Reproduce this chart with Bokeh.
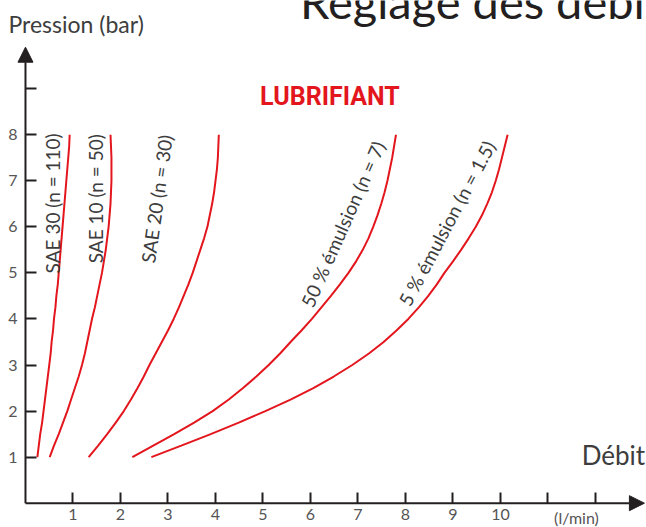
import math
from bokeh.plotting import figure
from bokeh.models import Range1d, FixedTicker, Arrow, NormalHead, Label, ColumnDataSource
from bokeh.core.properties import value
from bokeh.embed import file_html
from bokeh.resources import INLINE

# ---------------- data ----------------
pressure = [1.0, 1.25, 1.5, 1.75, 2.0, 2.25, 2.5, 2.75, 3.0, 3.25, 3.5, 3.75, 4.0, 4.25,
            4.5, 4.75, 5.0, 5.25, 5.5, 5.75, 6.0, 6.25, 6.5, 6.75, 7.0, 7.25, 7.5, 7.75, 8.0]
sae30 = [0.25, 0.28, 0.31, 0.35, 0.38, 0.41, 0.44, 0.47, 0.50, 0.53, 0.55, 0.58, 0.60, 0.63,
         0.65, 0.68, 0.70, 0.72, 0.74, 0.76, 0.78, 0.80, 0.82, 0.84, 0.86, 0.88, 0.90, 0.92, 0.93]
sae10 = [0.51, 0.60, 0.70, 0.79, 0.88, 0.96, 1.04, 1.12, 1.19, 1.25, 1.30, 1.35, 1.40, 1.46,
         1.51, 1.56, 1.61, 1.65, 1.69, 1.72, 1.75, 1.77, 1.79, 1.80, 1.81, 1.81, 1.81, 1.80, 1.79]
sae20 = [1.33, 1.53, 1.72, 1.90, 2.07, 2.22, 2.36, 2.49, 2.61, 2.74, 2.87, 3.00, 3.12, 3.23,
         3.33, 3.43, 3.52, 3.60, 3.68, 3.76, 3.83, 3.88, 3.93, 3.97, 4.00, 4.03, 4.05, 4.06, 4.07]
emul50 = [2.25, 2.69, 3.13, 3.55, 3.94, 4.28, 4.58, 4.86, 5.12, 5.36, 5.58, 5.81, 6.03, 6.23,
          6.43, 6.62, 6.80, 6.96, 7.10, 7.22, 7.32, 7.41, 7.49, 7.56, 7.62, 7.67, 7.72, 7.76, 7.80]
emul5 = [2.65, 3.28, 3.90, 4.49, 5.05, 5.58, 6.06, 6.49, 6.88, 7.23, 7.54, 7.81, 8.06, 8.28,
         8.48, 8.66, 8.82, 9.00, 9.17, 9.33, 9.48, 9.61, 9.72, 9.82, 9.90, 9.97, 10.03, 10.09, 10.15]

curve_names = ["SAE 30 (n = 110)", "SAE 10 (n = 50)", "SAE 20 (n = 30)",
               "50 % émulsion (n = 7)", "5 % émulsion (n = 1.5)"]

x_ticks = [1, 2, 3, 4, 5, 6, 7, 8, 9, 10, 11, 12]
x_tick_labels = ["1", "2", "3", "4", "5", "6", "7", "8", "9", "10", "", ""]
y_ticks = [1, 2, 3, 4, 5, 6, 7, 8, 9]
y_tick_labels = ["1", "2", "3", "4", "5", "6", "7", "8", ""]

title_text = "Réglage des débits"
y_title = "Pression (bar)"
x_title = "Débit"
x_unit = "(l/min)"
group_title = "LUBRIFIANT"

# ---------------- styling / layout ----------------
RED = "#e3161d"
INK = "#231f20"
GREY = "#3d3d3d"
TICKGREY = "#555555"
FONT = "Lato"

p = figure(width=646, height=527,
           x_range=Range1d(-0.526, 13.074), y_range=Range1d(-0.528, 10.914),
           output_backend="svg", toolbar_location=None,
           min_border_left=0, min_border_right=0,
           min_border_top=0, min_border_bottom=0)
p.outline_line_color = None
p.grid.visible = False
p.background_fill_color = "white"

for ax, ticks, labels in ((p.xaxis[0], x_ticks, x_tick_labels), (p.yaxis[0], y_ticks, y_tick_labels)):
    ax.fixed_location = 0
    ax.ticker = FixedTicker(ticks=ticks)
    ax.major_label_overrides = {t: l for t, l in zip(ticks, labels)}
    ax.axis_line_color = None
    ax.major_tick_in = 11
    ax.major_tick_out = 0
    ax.major_tick_line_width = 2
    ax.major_tick_line_color = INK
    ax.minor_tick_line_color = None
    ax.major_label_text_font = FONT
    ax.major_label_text_font_size = "16px"
    ax.major_label_text_color = TICKGREY
p.xaxis.major_label_standoff = 6
p.yaxis.major_label_standoff = 8

# axes drawn as arrows
p.add_layout(Arrow(x_start=0, y_start=0, x_end=13.03, y_end=0,
                   line_width=2, line_color=INK,
                   end=NormalHead(size=15, fill_color=INK, line_color=INK, line_width=1)))
p.add_layout(Arrow(x_start=0, y_start=0, x_end=0, y_end=9.9,
                   line_width=2, line_color=INK,
                   end=NormalHead(size=15, fill_color=INK, line_color=INK, line_width=1)))

# curves
for xs in (sae30, sae10, sae20, emul50, emul5):
    p.line(xs, pressure, line_color=RED, line_width=2)

# curve labels
lab_x = [0.56, 1.47, 2.76, 6.68, 8.87]
lab_y = [6.51, 6.61, 6.61, 6.06, 6.08]
lab_angle = [math.radians(a) for a in (90, 90, 82, 66, 62)]
src = ColumnDataSource(dict(x=lab_x, y=lab_y, text=curve_names, angle=lab_angle))
p.text(x="x", y="y", text="text", angle="angle", source=src,
       text_font=value(FONT), text_font_size="19px", text_color=GREY,
       text_align="center", text_baseline="middle")

# other texts
p.add_layout(Label(x=6.41, y=8.84, text=group_title, text_font="Roboto",
                   text_font_style="bold", text_font_size="25px", text_color=RED,
                   text_align="center", text_baseline="middle"))
p.add_layout(Label(x=11.71, y=1.04, text=x_title, text_font=FONT,
                   text_font_size="26px", text_color=GREY,
                   text_align="left", text_baseline="middle"))
p.add_layout(Label(x=11.6, y=-0.31, text=x_unit, text_font=FONT,
                   text_font_size="16px", text_color=TICKGREY,
                   text_align="center", text_baseline="middle"))
p.add_layout(Label(x=-0.358, y=10.40, text=y_title, text_font=FONT,
                   text_font_size="23px", text_color=GREY,
                   text_align="left", text_baseline="middle"))
p.add_layout(Label(x=5.78, y=10.90, text=title_text, text_font=FONT,
                   text_font_size="47px", text_color=INK,
                   text_align="left", text_baseline="middle"))

open("out.html", "w").write(file_html(p, INLINE))
